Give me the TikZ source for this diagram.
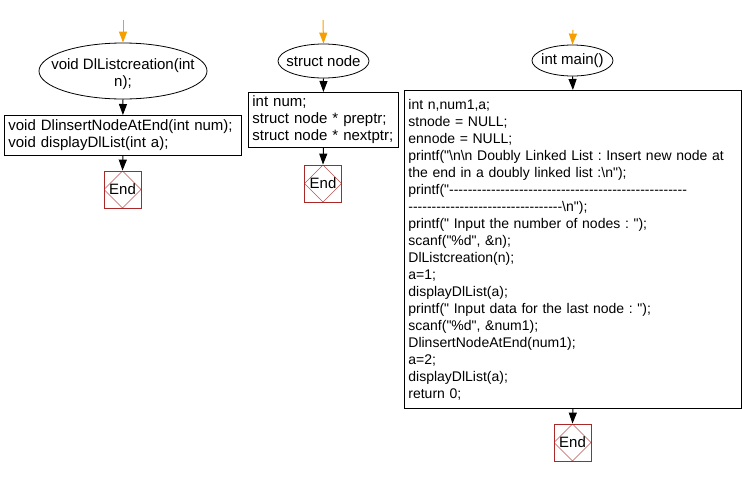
\documentclass[tikz,border=0pt]{standalone}
\usepackage{fontspec}
\setmainfont{Liberation Sans}[Ligatures=TeXOff]
\usetikzlibrary{arrows.meta,shapes.geometric}
\definecolor{startorange}{RGB}{245,160,0}
\definecolor{endred}{RGB}{170,40,40}
\newcommand{\bsl}{\textbackslash}
\frenchspacing
\tikzset{
  txt/.style={font=\fontsize{15}{17}\selectfont},
  smalltxt/.style={font=\fontsize{14}{17}\selectfont},
  oval/.style={draw, ellipse, line width=0.8pt, inner sep=0pt, fill=white},
  codebox/.style={draw, line width=0.8pt, anchor=north west, inner xsep=4pt, inner ysep=0pt, align=left, txt},
  endbox/.style={draw=endred, line width=0.8pt, minimum width=37pt, minimum height=37pt, inner sep=0pt, txt,
    path picture={\draw[endred!80, line width=0.5pt]
      (path picture bounding box.north) -- (path picture bounding box.east) --
      (path picture bounding box.south) -- (path picture bounding box.west) -- cycle;}},
  startarrow/.style={draw=startorange, line width=1pt, -{Triangle[width=8pt,length=11pt]}, startorange},
  flowarrow/.style={draw=black, line width=1pt, -{Triangle[width=8pt,length=11pt]}}
}
\begin{document}
\begin{tikzpicture}[x=1pt,y=-1pt]
\useasboundingbox (0,0) rectangle (742,477);
% left column
\coordinate (s1) at (123,20);
\node[oval, minimum width=168pt, minimum height=56pt] (e1) at (123,71) {};
\node[txt, align=center] (e1t) at (123,74) {void DlListcreation(int\\n);};
\node[codebox, minimum width=237pt, minimum height=40pt, text width=229pt] (b1) at (4,115)
  {void DlinsertNodeAtEnd(int num);\\void displayDlList(int a);};
\node[endbox] (n1) at (122.5,189.5) {End};
\draw[startarrow] (s1) -- (e1.north);
\draw[flowarrow] (e1.south) -- (b1.north);
\draw[flowarrow] (b1.south) -- (n1.north);
% middle column
\coordinate (s2) at (323,20);
\node[oval, minimum width=91pt, minimum height=34pt] (e2) at (323.5,61) {};
\node[txt] (e2t) at (323.5,61) {struct node};
\node[codebox, minimum width=150pt, minimum height=55pt, text width=142pt] (b2) at (248,92)
  {int num;\\struct node * preptr;\\struct node * nextptr;};
\node[endbox] (n2) at (323,183.5) {End};
\draw[startarrow] (s2) -- (e2.north);
\draw[flowarrow] (e2.south) -- (b2.north);
\draw[flowarrow] (b2.south) -- (n2.north);
% right column
\coordinate (s3) at (573,30);
\node[oval, minimum width=81pt, minimum height=31pt] (e3) at (572.5,60.5) {};
\node[txt] (e3t) at (572.5,60.5) {int main()};
\node[codebox, smalltxt, minimum width=337pt, minimum height=318pt, text width=329pt] (b3) at (404,90)
  {int n,num1,a;\\
   stnode = NULL;\\
   ennode = NULL;\\
   \mbox{printf("\bsl n\bsl n Doubly Linked List : Insert new node at}\\
   the end in a doubly linked list :\bsl n");\\
   \mbox{printf("---------------------------------------------------}\\
   \mbox{---------------------------------\bsl n");}\\
   printf(" Input the number of nodes : ");\\
   scanf("\%d", \&n);\\
   DlListcreation(n);\\
   a=1;\\
   displayDlList(a);\\
   printf(" Input data for the last node : ");\\
   scanf("\%d", \&num1);\\
   DlinsertNodeAtEnd(num1);\\
   a=2;\\
   displayDlList(a);\\
   return 0;};
\node[endbox] (n3) at (572.5,442.5) {End};
\draw[startarrow] (s3) -- (e3.north);
\draw[flowarrow] (e3.south) -- (b3.north);
\draw[flowarrow] (b3.south) -- (n3.north);
\end{tikzpicture}
\end{document}
